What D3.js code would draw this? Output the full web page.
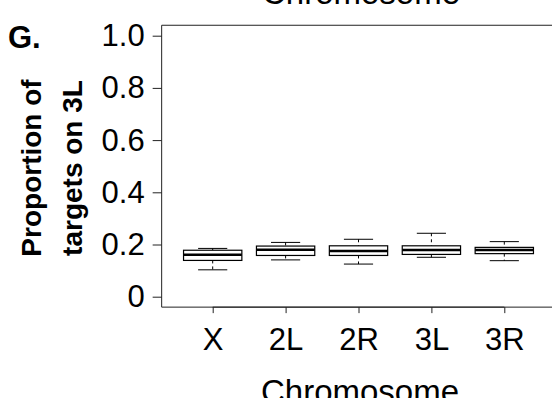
<!DOCTYPE html>
<html>
<head>
<meta charset="utf-8">
<script src="https://cdn.jsdelivr.net/npm/d3@7"></script>
<style>
  html, body { margin: 0; padding: 0; background: #fff; overflow: hidden; }
  svg { display: block; font-family: "Liberation Sans", Arial, sans-serif; }
</style>
</head>
<body>
<svg width="552" height="398"></svg>
<script>
/* data */
var chromosomes = ["X", "2L", "2R", "3L", "3R"]
var lowerWhisker = [0.103, 0.141, 0.125, 0.151, 0.138]
var q1 = [0.139, 0.158, 0.158, 0.162, 0.165]
var medians = [0.161, 0.180, 0.175, 0.179, 0.179]
var q3 = [0.178, 0.194, 0.195, 0.195, 0.189]
var upperWhisker = [0.185, 0.208, 0.220, 0.243, 0.211]
var yTicks = [0, 0.2, 0.4, 0.6, 0.8, 1.0]

var boxes = chromosomes.map(function (c, i) {
    return {name: c, lo: lowerWhisker[i], q1: q1[i], med: medians[i], q3: q3[i], hi: upperWhisker[i]}
})

var svg = d3.select("svg")

/* scales */
var x = d3.scalePoint().domain(chromosomes).range([212.7, 504.3])
var y = d3.scaleLinear().domain([0, 1]).range([296.7, 35.7])
var step = x.step()
var boxW = step * 0.8
var capW = boxW * 0.5

/* plot frame (R style, extended 4%), right side runs off the picture */
var frameLeft = x(chromosomes[0]) - 0.7 * step
var frameRight = x(chromosomes[chromosomes.length - 1]) + 0.7 * step
var frameTop = y(1.04)
var frameBottom = y(-0.04)

svg.append("path")
    .attr("d", "M" + (frameRight + 20) + "," + frameTop +
        "H" + frameLeft + "V" + frameBottom + "H" + (frameRight + 20))
    .attr("fill", "none")
    .attr("stroke", "#222")
    .attr("stroke-width", 1)

/* y axis */
var gy = svg.append("g")
    .attr("transform", "translate(" + frameLeft + ",0)")
    .call(d3.axisLeft(y)
        .tickValues(yTicks)
        .tickFormat(function (d) { return d === 0 ? "0" : d.toFixed(1) })
        .tickSize(9)
        .tickPadding(8)
        .tickSizeOuter(0))
gy.select(".domain").remove()
gy.selectAll("line").attr("stroke", "#222")
gy.selectAll("text")
    .attr("fill", "#000")
    .style("font-size", "31px")
    .style("font-family", "'Liberation Sans', Arial, sans-serif")

/* x axis */
var gx = svg.append("g")
    .attr("transform", "translate(0," + frameBottom + ")")
    .call(d3.axisBottom(x)
        .tickSize(6)
        .tickPadding(15)
        .tickSizeOuter(0))
gx.select(".domain")
    .attr("d", "M" + x(chromosomes[0]) + ",0H" + x(chromosomes[chromosomes.length - 1]))
    .attr("stroke", "#222")
gx.selectAll("line").attr("stroke", "#222")
gx.selectAll("text")
    .attr("fill", "#000")
    .style("font-size", "31px")
    .style("font-family", "'Liberation Sans', Arial, sans-serif")

/* boxplots */
var g = svg.append("g").attr("class", "boxes")
var b = g.selectAll("g").data(boxes).enter().append("g")

/* dashed whiskers */
b.append("line")
    .attr("x1", function (d) { return x(d.name) })
    .attr("x2", function (d) { return x(d.name) })
    .attr("y1", function (d) { return y(d.hi) })
    .attr("y2", function (d) { return y(d.q3) })
    .attr("stroke", "#000")
    .attr("stroke-dasharray", "3,3")
b.append("line")
    .attr("x1", function (d) { return x(d.name) })
    .attr("x2", function (d) { return x(d.name) })
    .attr("y1", function (d) { return y(d.q1) })
    .attr("y2", function (d) { return y(d.lo) })
    .attr("stroke", "#000")
    .attr("stroke-dasharray", "3,3")

/* staples */
b.append("line")
    .attr("x1", function (d) { return x(d.name) - capW / 2 })
    .attr("x2", function (d) { return x(d.name) + capW / 2 })
    .attr("y1", function (d) { return y(d.hi) })
    .attr("y2", function (d) { return y(d.hi) })
    .attr("stroke", "#000")
b.append("line")
    .attr("x1", function (d) { return x(d.name) - capW / 2 })
    .attr("x2", function (d) { return x(d.name) + capW / 2 })
    .attr("y1", function (d) { return y(d.lo) })
    .attr("y2", function (d) { return y(d.lo) })
    .attr("stroke", "#000")

/* box */
b.append("rect")
    .attr("x", function (d) { return x(d.name) - boxW / 2 })
    .attr("y", function (d) { return y(d.q3) })
    .attr("width", boxW)
    .attr("height", function (d) { return y(d.q1) - y(d.q3) })
    .attr("fill", "#fff")
    .attr("stroke", "#000")
    .attr("stroke-width", 1.2)

/* median */
b.append("line")
    .attr("x1", function (d) { return x(d.name) - boxW / 2 })
    .attr("x2", function (d) { return x(d.name) + boxW / 2 })
    .attr("y1", function (d) { return y(d.med) })
    .attr("y2", function (d) { return y(d.med) })
    .attr("stroke", "#000")
    .attr("stroke-width", 2.5)

/* titles (cut by the picture edges, as in the source figure) */
svg.append("text")
    .attr("x", 361)
    .attr("y", 4)
    .attr("text-anchor", "middle")
    .style("font-size", "33px")
    .text("Chromosome")

svg.append("text")
    .attr("x", 360)
    .attr("y", 403)
    .attr("text-anchor", "middle")
    .style("font-size", "33px")
    .text("Chromosome")

svg.append("text")
    .attr("x", 8)
    .attr("y", 48)
    .style("font-size", "31px")
    .style("font-weight", "bold")
    .text("G.")

/* y label, two rotated lines */
var ylab = svg.append("text")
    .attr("transform", "translate(0,168) rotate(-90)")
    .attr("text-anchor", "middle")
    .style("font-size", "28px")
    .style("font-weight", "bold")
ylab.append("tspan").attr("x", 0).attr("y", 41).text("Proportion of")
ylab.append("tspan").attr("x", 0).attr("y", 82).text("targets on 3L")
</script>
</body>
</html>
